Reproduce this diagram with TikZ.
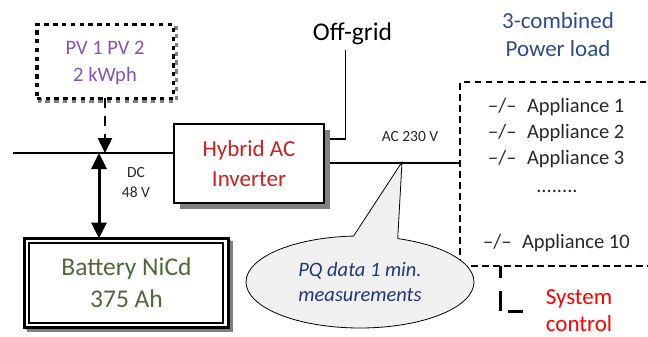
\documentclass[tikz,border=0pt]{standalone}
\usepackage{fontspec}
\setmainfont{Carlito}
\usetikzlibrary{arrows.meta,shapes.geometric,backgrounds}
\definecolor{pvpurple}{RGB}{130,84,186}
\definecolor{invred}{RGB}{204,32,32}
\definecolor{batgreen}{RGB}{80,104,58}
\definecolor{loadblue}{RGB}{47,75,140}
\definecolor{pqblue}{RGB}{32,56,120}
\definecolor{txtgray}{RGB}{40,40,40}
\definecolor{shadowgray}{RGB}{128,128,128}
\definecolor{callfill}{RGB}{240,240,240}
\begin{document}
\begin{tikzpicture}[x=1pt,y=-1pt,
  pvbox/.style={draw=black, fill=white, line width=3.5pt, dash pattern=on 4.4pt off 4.4pt,
    minimum width=136.5pt, minimum height=73.5pt, inner sep=0pt, outer sep=0pt,
    align=center, text=pvpurple, text depth=0pt, font=\fontsize{20.5}{26.7}\selectfont},
  invbox/.style={draw=black, fill=white, line width=2pt, minimum width=150pt, minimum height=79pt,
    inner sep=0pt, outer sep=0pt, align=center, text=invred, font=\fontsize{23}{29.3}\selectfont},
  batbox/.style={draw=black, fill=white, line width=3pt, minimum width=204pt, minimum height=89pt,
    inner sep=0pt, outer sep=0pt, align=center, text=batgreen, font=\fontsize{25.5}{31.7}\selectfont},
  callout/.style={ellipse, draw=black, fill=callfill, line width=0.8pt, minimum width=228pt,
    minimum height=92pt, inner sep=0pt, outer sep=0pt, align=center, text=pqblue,
    font=\itshape\fontsize{20.5}{25}\selectfont},
  loadbox/.style={draw=black, line width=1.8pt, dash pattern=on 6.5pt off 4.5pt,
    minimum width=210pt, minimum height=184pt, inner sep=0pt, outer sep=0pt},
  wire/.style={draw=black, line width=1.8pt},
  small/.style={text=txtgray, inner sep=0pt, align=center, font=\fontsize{15.5}{20}\selectfont},
  appl/.style={text=txtgray, inner sep=0pt, font=\fontsize{20.5}{25}\selectfont},
  pvarrow/.style={draw=black, line width=2.5pt, dash pattern=on 10pt off 8pt,
    -{Triangle[width=14pt,length=15pt]}},
  dblarrow/.style={draw=black, line width=3pt,
    {Triangle[width=15pt,length=16pt]}-{Triangle[width=15pt,length=16pt]}},
  ctlline/.style={draw=black, line width=3pt, dash pattern=on 12pt off 13pt on 20pt off 8pt on 15pt off 10pt},
]
\useasboundingbox (0,0) rectangle (648,337);

% main boxes
\node[pvbox] (pv) at (105,61.5) {PV 1 PV 2\\2 kWph};
\node[invbox] (inv) at (249,163.5) {Hybrid AC\\Inverter};
\node[batbox] (bat) at (126.5,283) {Battery NiCd\\375 Ah};
\draw[line width=2pt] ([shift={(4.5,4.5)}]bat.north west) rectangle ([shift={(-5.5,-4.5)}]bat.south east);

% texts
\node[anchor=base, inner sep=0pt, font=\fontsize{25.5}{30}\selectfont] (og) at (352.5,41) {Off-grid};
\node[small, anchor=base] (ac) at (410,141.7) {AC 230 V};
\node[small] (dc) at (136,182.5) {DC\\48 V};
\node[inner sep=0pt, align=center, text=loadblue, font=\fontsize{23}{28}\selectfont] (pl) at (558,34.3) {3-combined\\Power load};
\node[inner sep=0pt, align=center, text=red, font=\fontsize{23}{27.5}\selectfont] (sc) at (579,310.5) {System\\control};

\node[appl, anchor=base west] (a1) at (488,112.7) {\textendash/\textendash\hspace{10.5pt}Appliance 1};
\node[appl, anchor=base west] (a2) at (488,138.4) {\textendash/\textendash\hspace{10.5pt}Appliance 2};
\node[appl, anchor=base west] (a3) at (488,164.1) {\textendash/\textendash\hspace{10.5pt}Appliance 3};
\node[appl, anchor=base] (dots) at (557,192) {........};
\node[appl, anchor=base west] (a10) at (483,248) {\textendash/\textendash\hspace{10.5pt}Appliance 10};

% load box
\node[loadbox, anchor=north west] (load) at (460,82) {};

% coordinates
\coordinate (dcw) at (13,153);
\coordinate (junc) at (99,153);
\coordinate (ogtop) at (345.5,50);
\coordinate (ogc) at (345.5,139);
\coordinate (acy) at (0,163);
\coordinate (ctlc) at (500,311);
\coordinate (ctle) at (523,311);
\coordinate (pqtip) at (402,162);

% wires and shadows behind
\begin{scope}[on background layer]
  \draw[wire, line width=1.5pt] (dcw) -- (dcw -| inv.west);
  \draw[wire] (ogtop) -- (ogc) -- (ogc -| inv.east);
  \draw[wire] (inv.east |- acy) -- (load.west |- acy);
  \fill[shadowgray] ([shift={(6,6)}]inv.north west) rectangle ([shift={(6,6)}]inv.south east);
  \draw[shadowgray, line width=3.5pt, dash pattern=on 4.4pt off 4.4pt]
    ([shift={(3,3)}]pv.north west) rectangle ([shift={(3,3)}]pv.south east);
  \draw[shadowgray, line width=1.2pt]
    ([shift={(3.5,3.5)}]bat.north west) rectangle ([shift={(3.5,3.5)}]bat.south east);
  \draw[shadowgray, line width=1pt]
    ([shift={(2,2)}]bat.north west) rectangle ([shift={(2,2)}]bat.south east);
\end{scope}

% arrows
\draw[pvarrow] (pv.south) -- (pv.south |- dcw);
\draw[dblarrow] (junc) -- (junc |- bat.north);

% system control line
\draw[ctlline] (load.south -| ctlc) -- (ctlc) -- (ctle);

% callout
\node[callout] (pq) at (360,282) {PQ data 1 min.\\measurements};
\fill[callfill] (pqtip) -- (pq.98.7) -- ([shift={(0,5)}]pq.98.7) -- ([shift={(0,5)}]pq.49.6) -- (pq.49.6) -- cycle;
\draw[line width=0.8pt, line join=miter] (pq.98.7) -- (pqtip) -- (pq.49.6);
\end{tikzpicture}
\end{document}
